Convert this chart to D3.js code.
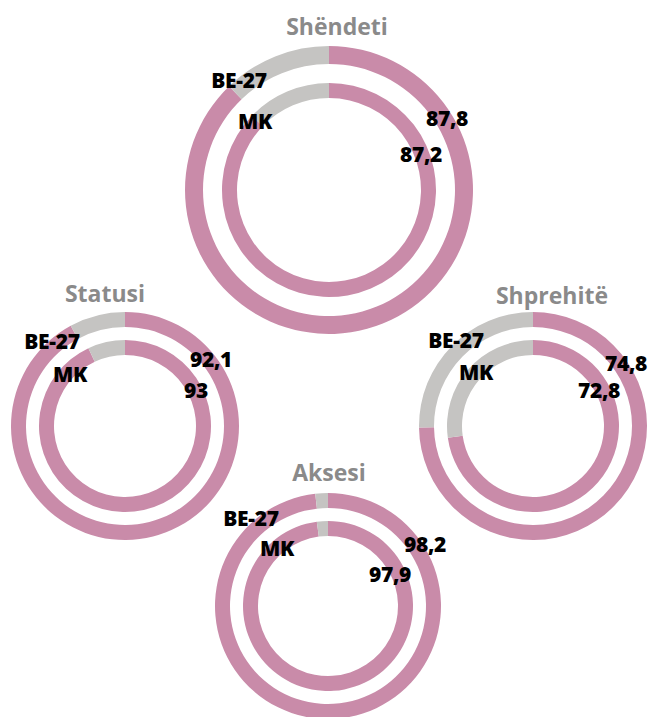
<!DOCTYPE html>
<html>
<head>
<meta charset="utf-8">
<script src="https://cdn.jsdelivr.net/npm/d3@7"></script>
<style>
  body { margin: 0; background: #fff; }
  text { font-family: "Open Sans", sans-serif; font-weight: bold; }
</style>
</head>
<body>
<svg width="649" height="717"></svg>
<script>
// data
var categories = ["Shëndeti", "Statusi", "Shprehitë", "Aksesi"];
var seriesNames = ["BE-27", "MK"];
var be27 = [87.8, 92.1, 74.8, 98.2];
var mk = [87.2, 93, 72.8, 97.9];
var valueLabels = [["87,8", "87,2"], ["92,1", "93"], ["74,8", "72,8"], ["98,2", "97,9"]];

// layout for each donut pair (center, outer radius, ring widths, label offsets)
var layout = [
  {cx: 329, cy: 190, r: 144, w1: 18, r2: 107, w2: 15, title: [337, 35],
   names: [[-90, -110], [-74, -69]], vals: [[118, -72], [92, -36]]},
  {cx: 125, cy: 426, r: 114, w1: 15, r2: 86, w2: 15, title: [105, 302],
   names: [[-73, -85], [-55, -52]], vals: [[86, -67], [71, -36]]},
  {cx: 533, cy: 426, r: 114, w1: 15, r2: 86, w2: 15, title: [552, 304],
   names: [[-77, -86], [-57, -54]], vals: [[93, -63], [66, -36]]},
  {cx: 328, cy: 606, r: 113, w1: 15, r2: 85, w2: 15, title: [329, 481],
   names: [[-77, -88], [-51, -58]], vals: [[97, -62], [62, -32]]}
];

var pink = "#c98ba9", grey = "#c5c4c2";

var svg = d3.select("svg");

var pie = d3.pie().sort(null).value(function(d) { return d; });

categories.forEach(function(cat, i) {
  var L = layout[i];
  var g = svg.append("g")
    .attr("transform", "translate(" + L.cx + "," + L.cy + ")");

  var rings = [
    {v: be27[i], outer: L.r, inner: L.r - L.w1},
    {v: mk[i], outer: L.r2, inner: L.r2 - L.w2}
  ];

  rings.forEach(function(ring) {
    var arc = d3.arc().innerRadius(ring.inner).outerRadius(ring.outer);
    g.selectAll(null)
      .data(pie([ring.v, 100 - ring.v]))
      .enter().append("path")
      .attr("d", arc)
      .attr("fill", function(d, j) { return j === 0 ? pink : grey; });
  });

  svg.append("text")
    .attr("x", L.title[0])
    .attr("y", L.title[1])
    .attr("text-anchor", "middle")
    .attr("fill", "#8a8a8a")
    .style("font-size", "23px")
    .text(cat);

  seriesNames.forEach(function(name, k) {
    g.append("text")
      .attr("x", L.names[k][0])
      .attr("y", L.names[k][1])
      .attr("dy", "0.36em")
      .attr("text-anchor", "middle")
      .attr("fill", "#000")
      .style("font-size", "21px")
      .style("font-weight", "800")
      .style("letter-spacing", "-0.3px")
      .text(name);

    g.append("text")
      .attr("x", L.vals[k][0])
      .attr("y", L.vals[k][1])
      .attr("dy", "0.36em")
      .attr("text-anchor", "middle")
      .attr("fill", "#000")
      .style("font-size", "21px")
      .style("font-weight", "800")
      .style("letter-spacing", "-0.3px")
      .text(valueLabels[i][k]);
  });
});
</script>
</body>
</html>
